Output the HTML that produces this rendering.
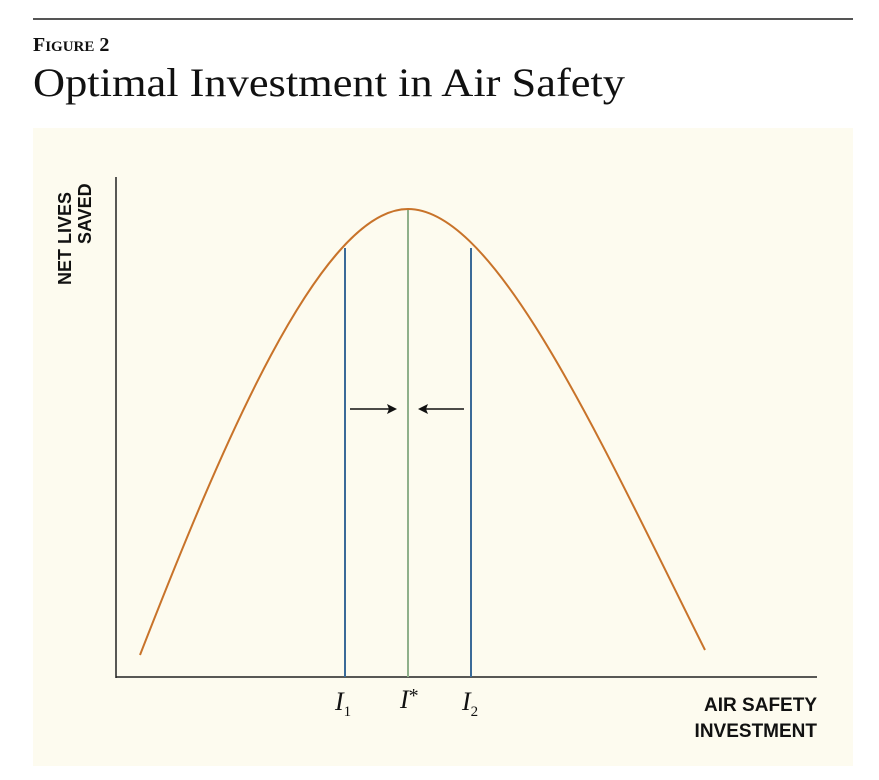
<!DOCTYPE html>
<html><head><meta charset="utf-8"><style>
body{margin:0;background:#fff;width:879px;height:775px;overflow:hidden}
</style></head><body>
<svg width="879" height="775" xmlns="http://www.w3.org/2000/svg">
<line x1="33" y1="19" x2="853" y2="19" stroke="#555" stroke-width="2"/>
<text x="33" y="51" font-family="Liberation Serif, serif" font-weight="bold" font-size="20" fill="#111">F<tspan font-size="15">IGURE</tspan> 2</text>
<text x="33" y="96" font-family="Liberation Serif, serif" font-size="40" fill="#111" textLength="592" lengthAdjust="spacingAndGlyphs">Optimal Investment in Air Safety</text>
<rect x="33" y="128" width="820" height="638" fill="#fdfbef"/>
<line x1="116" y1="177" x2="116" y2="678" stroke="#222" stroke-width="1.5"/>
<line x1="116" y1="677" x2="817" y2="677" stroke="#222" stroke-width="1.5"/>
<line x1="345" y1="248" x2="345" y2="677" stroke="#3a6a98" stroke-width="2"/>
<line x1="471" y1="248" x2="471" y2="677" stroke="#3a6a98" stroke-width="2"/>
<line x1="408" y1="209" x2="408" y2="677" stroke="#8fb08a" stroke-width="2"/>
<path d="M140,655 C220,450 320,209 408,209 C496,209 600,440 705,650" fill="none" stroke="#c8732a" stroke-width="2"/>
<line x1="350" y1="409" x2="393" y2="409" stroke="#111" stroke-width="1.5"/>
<path d="M397,409 L387,404 L389,409 L387,414 Z" fill="#111"/>
<line x1="422" y1="409" x2="464" y2="409" stroke="#111" stroke-width="1.5"/>
<path d="M418,409 L428,404 L426,409 L428,414 Z" fill="#111"/>
<text transform="translate(71,285) rotate(-90)" font-family="Liberation Sans, sans-serif" font-weight="bold" font-size="18" fill="#111">NET LIVES</text>
<text transform="translate(91,244) rotate(-90)" font-family="Liberation Sans, sans-serif" font-weight="bold" font-size="18" fill="#111">SAVED</text>
<g font-family="Liberation Serif, serif" font-style="italic" font-size="26" fill="#111">
<text x="335" y="710">I<tspan font-style="normal" font-size="15" dy="6">1</tspan></text>
<text x="400" y="708">I<tspan font-style="normal" font-size="20" dy="-6">*</tspan></text>
<text x="462" y="710">I<tspan font-style="normal" font-size="15" dy="6">2</tspan></text>
</g>
<g font-family="Liberation Sans, sans-serif" font-weight="bold" font-size="19" fill="#111" text-anchor="end">
<text x="817" y="711">AIR SAFETY</text>
<text x="817" y="737">INVESTMENT</text>
</g>
</svg>
</body></html>
